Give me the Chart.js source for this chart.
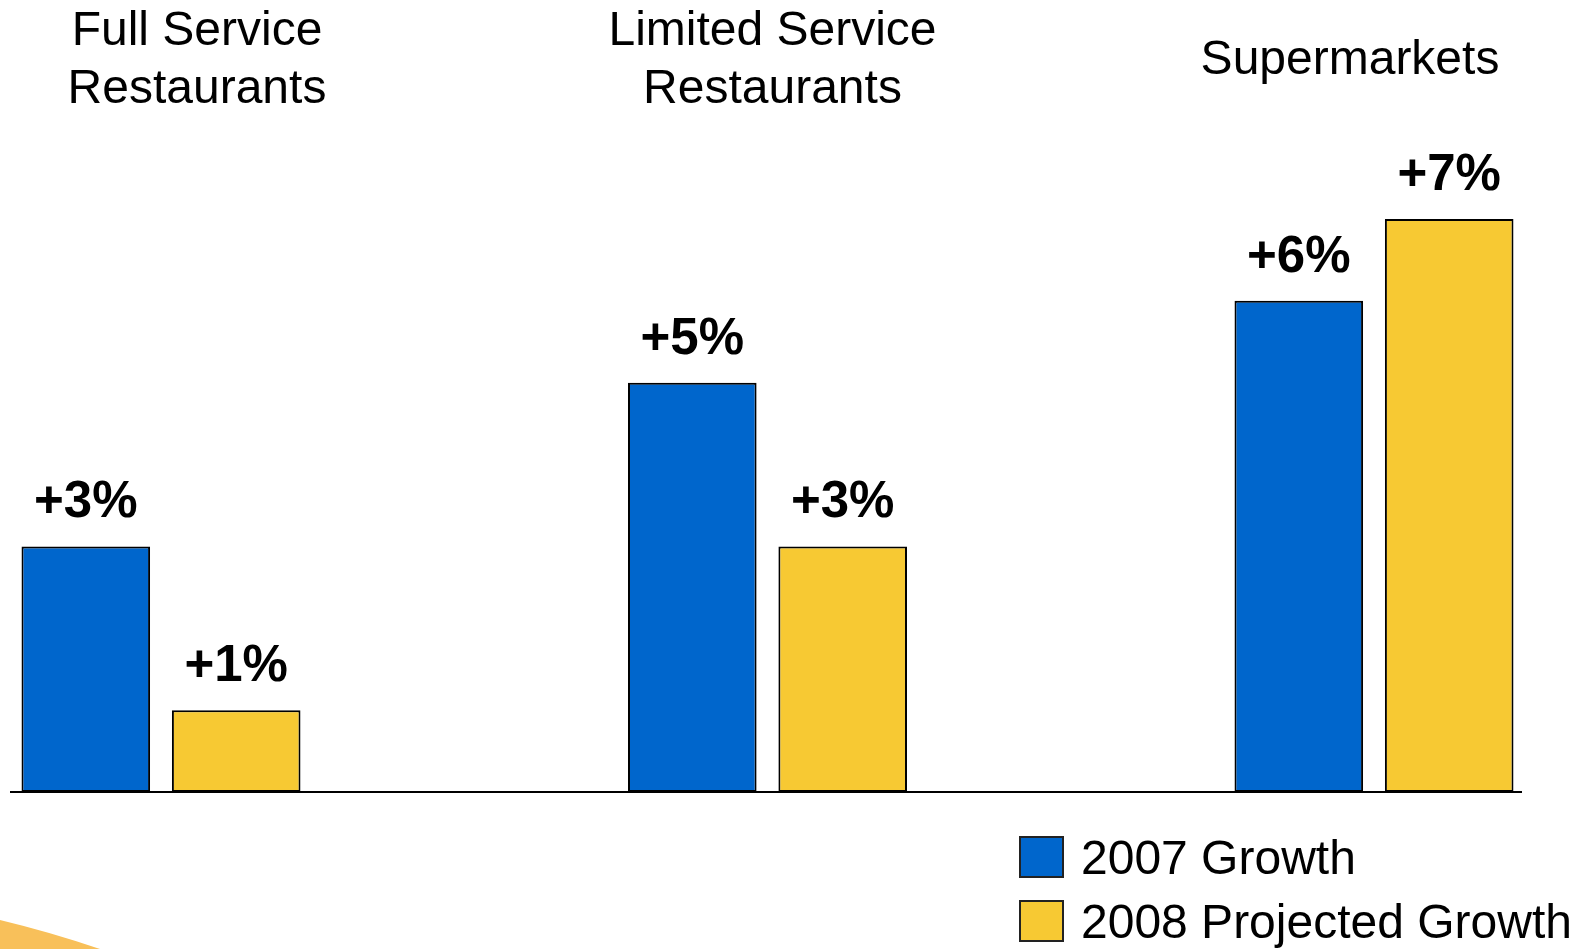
<!DOCTYPE html>
<html>
<head>
<meta charset="utf-8">
<script src="https://cdn.jsdelivr.net/npm/chart.js@4.4.1/dist/chart.umd.min.js"></script>
<style>
  html, body { margin: 0; padding: 0; background: #fff; }
  #wrap { position: relative; width: 1572px; height: 949px; }
</style>
</head>
<body>
<div id="wrap"><canvas id="growthChart" width="1572" height="949"></canvas></div>
<script>
// Channel growth data
const categories = [['Full Service', 'Restaurants'], ['Limited Service', 'Restaurants'], ['Supermarkets']];
const seriesNames = ['2007 Growth', '2008 Projected Growth'];
const growth2007 = [3, 5, 6];
const growth2008 = [1, 3, 7];

const BLUE = '#0066cc';
const YELLOW = '#f7c933';
const FONT = '"Liberation Sans", Arial, Helvetica, sans-serif';

// Horizontal shift of each channel title relative to its bar group
const titleShift = [36, 5, -24];

const decorPlugin = {
    id: 'decor',
    beforeDraw(chart) {
        const ctx = chart.ctx;
        // soft corner swoosh
        ctx.save();
        ctx.fillStyle = '#f8c05a';
        ctx.beginPath();
        ctx.moveTo(0, 920);
        ctx.quadraticCurveTo(50, 932, 100, 949);
        ctx.lineTo(0, 949);
        ctx.closePath();
        ctx.fill();
        ctx.restore();
    },
    afterDatasetsDraw(chart) {
        const ctx = chart.ctx;
        const x = chart.scales.x;
        const y = chart.scales.y;
        const base = Math.round(y.getPixelForValue(0));

        ctx.save();
        // baseline
        ctx.strokeStyle = '#000';
        ctx.lineWidth = 2;
        ctx.beginPath();
        ctx.moveTo(10, base);
        ctx.lineTo(1522, base);
        ctx.stroke();

        // value labels
        ctx.fillStyle = '#000';
        ctx.font = 'bold 51px ' + FONT;
        ctx.textAlign = 'center';
        ctx.textBaseline = 'alphabetic';
        chart.data.datasets.forEach((ds, di) => {
            chart.getDatasetMeta(di).data.forEach((bar, i) => {
                ctx.fillText('+' + ds.data[i] + '%', bar.x, bar.y - 29);
            });
        });

        // channel titles
        ctx.font = '48px ' + FONT;
        categories.forEach((lines, i) => {
            const cx = x.getPixelForValue(i) + titleShift[i];
            lines.forEach((line, j) => {
                ctx.fillText(line, cx, 74 + (j - (lines.length - 1) / 2) * 58);
            });
        });

        // legend
        ctx.textAlign = 'left';
        chart.data.datasets.forEach((ds, di) => {
            const top = 837 + di * 64;
            ctx.fillStyle = ds.backgroundColor;
            ctx.fillRect(1020, top, 43, 40);
            ctx.strokeStyle = '#222';
            ctx.lineWidth = 2;
            ctx.strokeRect(1020, top, 43, 40);
            ctx.fillStyle = '#000';
            ctx.fillText(ds.label, 1081, top + 37);
        });
        ctx.restore();
    }
};

new Chart(document.getElementById('growthChart'), {
    type: 'bar',
    data: {
        labels: categories,
        datasets: [{
            label: seriesNames[0],
            data: growth2007,
            backgroundColor: BLUE,
            borderColor: '#000',
            borderWidth: 2,
            borderSkipped: false,
            clip: false
        }, {
            label: seriesNames[1],
            data: growth2008,
            backgroundColor: YELLOW,
            borderColor: '#000',
            borderWidth: 2,
            borderSkipped: false,
            clip: false
        }]
    },
    options: {
        responsive: false,
        animation: false,
        devicePixelRatio: 1,
        layout: {
            padding: { left: 161, right: 198, top: 137, bottom: 157 }
        },
        categoryPercentage: 0.496,
        barPercentage: 0.855,
        plugins: {
            legend: { display: false },
            tooltip: { enabled: false }
        },
        scales: {
            x: {
                display: false,
                offset: false
            },
            y: {
                display: false,
                min: 0,
                max: 8
            }
        }
    },
    plugins: [decorPlugin]
});
</script>
</body>
</html>
